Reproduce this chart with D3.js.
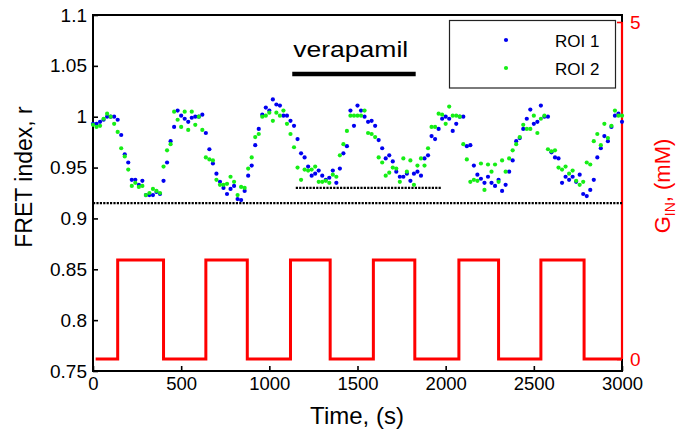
<!DOCTYPE html>
<html>
<head>
<meta charset="utf-8">
<script src="https://cdn.jsdelivr.net/npm/d3@7/dist/d3.min.js"></script>
<style>
  body { margin: 0; background: #fff; }
  svg { display: block; }
  text { font-family: "Liberation Sans", Arial, sans-serif; }
</style>
</head>
<body>
<svg id="chart" width="683" height="438"></svg>
<script>
// Frame interval of the recording, seconds
const sampleStep = 20;

// FRET index, ROI 1 (one value per frame)
const roi1 = [
  0.993,0.993,0.995,0.997,1.000,1.000,1.000,0.997,0.982,0.963,
  0.955,0.938,0.938,0.933,0.937,0.923,0.923,0.923,0.926,0.924,
  0.937,0.955,0.976,0.990,1.006,1.001,0.998,0.995,0.999,1.000,
  1.000,1.002,0.984,0.968,0.954,0.944,0.936,0.930,0.924,0.929,
  0.932,0.919,0.918,0.927,0.942,0.952,0.972,0.988,1.002,1.009,
  1.006,1.017,1.012,1.011,1.001,1.001,0.996,0.991,0.978,0.964,
  0.960,0.951,0.942,0.944,0.947,0.942,0.938,0.940,0.947,0.935,
  0.949,0.964,0.971,1.006,0.991,1.011,1.006,1.000,0.995,0.996,
  0.991,0.977,0.969,0.959,0.962,0.956,0.946,0.941,0.941,0.944,
  0.937,0.944,0.946,0.942,0.959,0.962,0.981,0.978,0.988,0.998,
  1.000,0.998,0.986,0.993,1.000,1.000,0.971,0.972,0.952,0.943,
  0.939,0.935,0.941,0.935,0.932,0.938,0.927,0.933,0.946,0.957,
  0.976,0.979,0.988,0.998,1.007,0.993,0.995,1.011,1.000,1.000,
  0.965,0.960,0.959,0.935,0.941,0.938,0.941,0.936,0.943,0.924,
  0.922,0.928,0.938,0.960,0.969,0.981,0.976,0.990,1.001,1.003,
  0.995
];

// FRET index, ROI 2
const roi2 = [
  0.992,0.990,0.991,0.998,1.003,1.000,0.993,0.985,0.969,0.961,
  0.948,0.932,0.935,0.931,0.932,0.923,0.925,0.929,0.927,0.925,
  0.951,0.967,0.973,1.005,0.997,0.990,1.005,0.987,1.005,0.992,
  1.000,0.987,0.960,0.958,0.957,0.938,0.933,0.933,0.934,0.941,
  0.936,0.923,0.931,0.930,0.949,0.960,0.980,0.983,1.000,1.001,
  1.004,0.996,1.004,1.001,1.006,0.993,0.983,0.970,0.950,0.938,
  0.948,0.947,0.948,0.951,0.936,0.936,0.937,0.935,0.943,0.941,
  0.962,0.973,0.986,1.001,1.001,1.001,1.001,1.006,0.984,0.983,
  0.980,0.960,0.955,0.942,0.945,0.950,0.949,0.936,0.959,0.946,
  0.957,0.933,0.952,0.959,0.952,0.969,0.990,0.990,1.003,1.002,
  0.993,1.010,1.001,1.001,1.000,0.973,0.958,0.936,0.938,0.937,
  0.954,0.928,0.953,0.946,0.953,0.936,0.957,0.946,0.959,0.967,
  0.973,0.980,0.992,0.988,0.988,1.001,0.984,0.998,1.001,0.968,
  0.966,0.967,0.950,0.948,0.951,0.944,0.947,0.937,0.933,0.936,
  0.955,0.953,0.976,0.983,0.972,0.993,0.979,0.991,1.006,1.001,
  1.001
];

// Perfused glucose, mM: [time s, level from that time on]
const glucoseSteps = [
  [15, 0], [140, 1.47], [400, 0], [640, 1.47], [875, 0],
  [1120, 1.47], [1345, 0], [1590, 1.47], [1825, 0],
  [2075, 1.47], [2300, 0], [2540, 1.47], [2785, 0], [3000, 0]
];

// Verapamil application window (s) and the level of its marker bar
const verapamilWindow = [1130, 1830];
const verapamilBarLevel = 1.042;

// Reference minima: whole-run and during verapamil
const baselineAll = { from: 0, to: 3000, value: 0.915 };
const baselineVerapamil = { from: 1150, to: 1975, value: 0.93 };

const xTicks = [0, 500, 1000, 1500, 2000, 2500, 3000];
const yTicks = [0.75, 0.8, 0.85, 0.9, 0.95, 1, 1.05, 1.1];
const gTicks = [0, 5];

const seriesNames = ["ROI 1", "ROI 2"];
const seriesColors = ["#0000f0", "#16ee16"];

const svg = d3.select("#chart");
const plotL = 93, plotR = 622, plotT = 15, plotB = 371;

const x = d3.scaleLinear().domain([0, 3000]).range([plotL, plotR]);
const y = d3.scaleLinear().domain([0.75, 1.1]).range([plotB, plotT]);
const g = d3.scaleLinear().domain([0, 5]).range([359, 22]);

// Left axis, ticks pointing into the plot
const yAxis = svg.append("g")
  .attr("transform", `translate(${plotL},0)`)
  .call(d3.axisLeft(y).tickValues(yTicks).tickSize(-5).tickPadding(6)
    .tickFormat(d => String(+d.toFixed(2))));
yAxis.select(".domain").remove();
yAxis.selectAll("line").attr("stroke", "#000").attr("stroke-width", 1.6);
yAxis.selectAll("text").attr("font-size", 19).attr("fill", "#000");

// Bottom axis
const xAxis = svg.append("g")
  .attr("transform", `translate(0,${plotB})`)
  .call(d3.axisBottom(x).tickValues(xTicks).tickSize(-5).tickPadding(6)
    .tickFormat(d3.format("d")));
xAxis.select(".domain").remove();
xAxis.selectAll("line").attr("stroke", "#000").attr("stroke-width", 1.6);
xAxis.selectAll("text").attr("font-size", 18.5).attr("fill", "#000");

// Plot frame
svg.append("rect")
  .attr("x", plotL).attr("y", plotT)
  .attr("width", plotR - plotL).attr("height", plotB - plotT)
  .attr("fill", "none").attr("stroke", "#000").attr("stroke-width", 2);

// Glucose protocol (right axis)
const stepLine = d3.line()
  .x(d => x(d[0])).y(d => g(d[1]))
  .curve(d3.curveStepAfter);
svg.append("path")
  .datum(glucoseSteps)
  .attr("d", stepLine)
  .attr("fill", "none").attr("stroke", "#ff0000").attr("stroke-width", 3);

// Right (glucose) axis in red
const gAxis = svg.append("g")
  .attr("transform", `translate(${plotR},0)`)
  .call(d3.axisRight(g).tickValues(gTicks).tickSize(-5).tickPadding(8)
    .tickFormat(d3.format("d")));
gAxis.select(".domain").attr("stroke", "#ff0000").attr("stroke-width", 2.2)
  .attr("d", `M0,${g(5)}V${g(0)}`);
gAxis.selectAll("line").attr("stroke", "#ff0000").attr("stroke-width", 1.6);
gAxis.selectAll("text").attr("font-size", 19).attr("fill", "#ff0000");

// Dotted reference minima
[baselineAll, baselineVerapamil].forEach(b => {
  svg.append("line")
    .attr("x1", x(b.from)).attr("x2", x(b.to))
    .attr("y1", y(b.value)).attr("y2", y(b.value))
    .attr("stroke", "#000").attr("stroke-width", 2.2)
    .attr("stroke-dasharray", "2.2,1.2");
});

// Verapamil bar and label
svg.append("line")
  .attr("x1", x(verapamilWindow[0])).attr("x2", x(verapamilWindow[1]))
  .attr("y1", y(verapamilBarLevel)).attr("y2", y(verapamilBarLevel))
  .attr("stroke", "#000").attr("stroke-width", 4.5);
svg.append("text")
  .attr("x", x(verapamilWindow[0]) + 1).attr("y", 57)
  .attr("font-size", 22)
  .attr("textLength", 115).attr("lengthAdjust", "spacingAndGlyphs")
  .text("verapamil");

// FRET traces
[roi1, roi2].forEach((vals, i) => {
  svg.append("g").selectAll("circle")
    .data(vals)
    .join("circle")
    .attr("cx", (d, k) => x(k * sampleStep))
    .attr("cy", d => y(d))
    .attr("r", 2.1)
    .attr("fill", seriesColors[i]);
});

// Legend
const legend = svg.append("g");
legend.append("rect")
  .attr("x", 449.5).attr("y", 20.5).attr("width", 166).attr("height", 67.5)
  .attr("fill", "#fff").attr("stroke", "#222").attr("stroke-width", 1.2);
seriesNames.forEach((name, i) => {
  const ly = 40 + i * 28;
  legend.append("circle").attr("cx", 506).attr("cy", ly).attr("r", 2.1)
    .attr("fill", seriesColors[i]);
  legend.append("text").attr("x", 555).attr("y", ly + 6.5)
    .attr("font-size", 17).text(name);
});

// Axis titles
svg.append("text")
  .attr("transform", "translate(32,177) rotate(-90)")
  .attr("text-anchor", "middle").attr("font-size", 23)
  .text("FRET index, r");

svg.append("text")
  .attr("x", 357).attr("y", 424)
  .attr("text-anchor", "middle").attr("font-size", 24)
  .text("Time, (s)");

const gTitle = svg.append("text")
  .attr("transform", "translate(670,186) rotate(-90)")
  .attr("text-anchor", "middle").attr("font-size", 22)
  .attr("fill", "#ff0000");
gTitle.append("tspan").text("G");
gTitle.append("tspan").attr("font-size", 14).attr("dy", 5).text("IN");
gTitle.append("tspan").attr("dy", -5).text(", (mM)");
</script>
</body>
</html>
